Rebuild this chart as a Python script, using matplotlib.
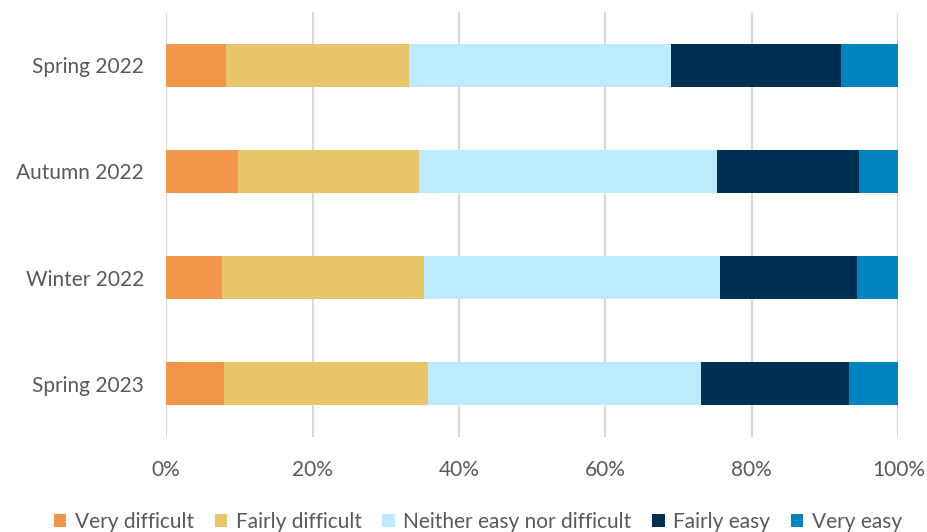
import numpy as np
import matplotlib.pyplot as plt

periods = ["Spring 2022", "Autumn 2022", "Winter 2022", "Spring 2023"]
answers = ["Very difficult", "Fairly difficult", "Neither easy nor difficult", "Fairly easy", "Very easy"]
very_difficult = [8.2, 9.8, 7.6, 7.9]
fairly_difficult = [25.0, 24.7, 27.6, 27.9]
neither = [35.7, 40.7, 40.4, 37.3]
fairly_easy = [23.3, 19.5, 18.8, 20.2]
very_easy = [7.8, 5.3, 5.6, 6.7]
colors = ["#F2964B", "#E8C46B", "#BDEBFD", "#002F54", "#0083BF"]

plt.rcParams['font.family'] = ['Lato', 'DejaVu Sans']

fig = plt.figure(figsize=(9.28, 5.32), dpi=100)
ax = fig.add_axes([0.179, 0.179, 0.789, 0.798])

series = [very_difficult, fairly_difficult, neither, fairly_easy, very_easy]
y = np.arange(len(periods))
left = np.zeros(len(periods))
for vals, name, c in zip(series, answers, colors):
    ax.barh(y, vals, left=left, height=0.4, color=c, label=name, zorder=3)
    left += np.array(vals)

ax.set_ylim(len(periods) - 0.5, -0.5)
ax.set_xlim(0, 100)
ax.set_yticks(y)
ax.set_yticklabels(periods)
ax.set_xticks(range(0, 101, 20))
ax.set_xticklabels([f"{v}%" for v in range(0, 101, 20)])
ax.tick_params(length=0, labelsize=15, colors="#595959")
ax.tick_params(axis='x', pad=17)
ax.tick_params(axis='y', pad=16)
ax.grid(axis='x', color="#d9d9d9", linewidth=1.5, zorder=0)
for s in ax.spines.values():
    s.set_visible(False)

leg = fig.legend(loc='lower center', bbox_to_anchor=(0.515, -0.035), ncol=5, frameon=False,
                 fontsize=15, handlelength=0.6, handleheight=0.6, handletextpad=0.4,
                 columnspacing=1.0, labelcolor="#595959")

fig.savefig("out.png", dpi=100)
